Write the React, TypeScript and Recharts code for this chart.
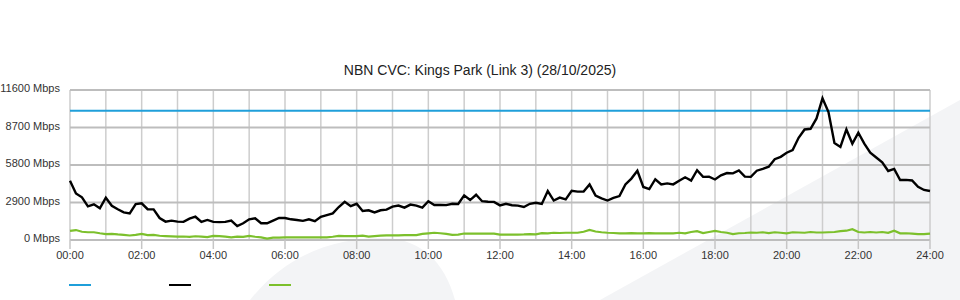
import React from "react";
import { LineChart, Line, XAxis, YAxis, CartesianGrid } from "recharts";

// 10 minute samples, 00:00 -> 24:00
const DOWNLOAD = [
  4590, 3600, 3300, 2600, 2760, 2450,
  3270, 2650, 2380, 2140, 2060, 2780,
  2835, 2380, 2370, 1700, 1420, 1500,
  1420, 1400, 1650, 1800, 1400, 1550,
  1400, 1380, 1400, 1500, 1080, 1290,
  1600, 1675, 1300, 1290, 1500, 1700,
  1700, 1600, 1550, 1480, 1600, 1450,
  1800, 1930, 2060, 2550, 2950, 2620,
  2800, 2250, 2300, 2130, 2300, 2350,
  2580, 2660, 2500, 2740, 2660, 2500,
  3000, 2710, 2710, 2700, 2800, 2780,
  3450, 3090, 3500, 3000, 2960, 2950,
  2680, 2800, 2690, 2660, 2550, 2800,
  2880, 2790, 3790, 3050, 3280, 3140,
  3800, 3740, 3740, 4300, 3430, 3220,
  3050, 3250, 3400, 4300, 4750, 5350,
  4100, 3940, 4700, 4300, 4380, 4300,
  4580, 4850, 4600, 5400, 4880, 4900,
  4680, 5000, 5180, 5150, 5380, 4900,
  4880, 5360, 5500, 5670, 6250, 6430,
  6750, 6950, 7900, 8550, 8600, 9400,
  10960, 9900, 7500, 7200, 8550, 7450,
  8300, 7450, 6750, 6380, 6000, 5340,
  5500, 4640, 4650, 4600, 4120, 3870,
  3790,
];

const UPLOAD = [
  700, 770, 640, 600, 600, 520,
  460, 480, 430, 400, 350, 400,
  470, 380, 400, 330, 300, 280,
  260, 270, 240, 290, 260, 220,
  320, 300, 260, 200, 260, 240,
  320, 250, 200, 110, 180, 190,
  200, 200, 200, 200, 210, 200,
  200, 210, 250, 320, 300, 300,
  300, 340, 260, 300, 340, 350,
  360, 360, 380, 380, 380, 470,
  510, 560, 520, 480, 400, 420,
  500, 500, 500, 490, 490, 490,
  420, 420, 420, 420, 430, 460,
  440, 530, 520, 560, 540, 560,
  560, 560, 640, 780, 660, 600,
  560, 540, 510, 520, 530, 520,
  520, 530, 520, 510, 520, 520,
  560, 520, 620, 680, 540, 620,
  700, 620, 560, 460, 520, 540,
  580, 560, 600, 540, 600, 560,
  520, 600, 580, 560, 620, 580,
  580, 600, 620, 680, 720, 840,
  620, 580, 620, 580, 620, 560,
  720, 520, 520, 500, 460, 460,
  500,
];

const CAPACITY = 10000;

const TIME_LABELS = [
  "00:00", "01:00", "02:00", "03:00", "04:00", "05:00", "06:00", "07:00",
  "08:00", "09:00", "10:00", "11:00", "12:00", "13:00", "14:00", "15:00",
  "16:00", "17:00", "18:00", "19:00", "20:00", "21:00", "22:00", "23:00",
  "24:00",
];

const Y_TICKS = [0, 2900, 5800, 8700, 11600];

const COLORS = { capacity: "#1f9fda", download: "#000000", upload: "#7cc02c" };

const FONT = "Arial, 'Liberation Sans', sans-serif";

const data = DOWNLOAD.map((v, i) => ({
  slot: i,
  capacity: CAPACITY,
  download: v,
  upload: UPLOAD[i],
}));

const hourTicks = TIME_LABELS.map((_l, i) => i * 6);

const TimeTick = (props: any) => {
  const { x, y, payload } = props;
  const h = Math.round(payload.value / 6);
  if (h % 2 !== 0) return <g />;
  return (
    <g>
      <line x1={x} x2={x} y1={y} y2={y + 9} stroke="#c6c6c6" strokeWidth={1.5} />
      <text x={x} y={y + 19} textAnchor="middle" fontSize={11} fill="#333" fontFamily={FONT}>
        {TIME_LABELS[h]}
      </text>
    </g>
  );
};

const MbpsTick = (props: any) => {
  const { x, y, payload } = props;
  return (
    <text x={x} y={y} dy={2} textAnchor="end" fontSize={11} fill="#333" fontFamily={FONT}>
      {`${payload.value} Mbps`}
    </text>
  );
};

const App: React.FC = () => {
  return (
    <div style={{ position: "absolute", left: 0, top: 0, width: 960, height: 300, background: "#fff", overflow: "hidden" }}>
      {/* faint background watermark */}
      <svg width={960} height={300} style={{ position: "absolute", left: 0, top: 0 }}>
        <path d="M250,300 C290,250 340,238 385,238 C425,240 445,265 455,300 Z" fill="#f3f4f6" />
        <path d="M600,300 L960,100 L960,300 Z" fill="#f3f4f6" />
      </svg>
      <div
        style={{
          position: "absolute",
          top: 62,
          left: 0,
          width: 960,
          textAlign: "center",
          fontFamily: FONT,
          fontSize: 14,
          color: "#222",
        }}
      >
        NBN CVC: Kings Park (Link 3) (28/10/2025)
      </div>
      <div style={{ position: "absolute", left: 0, top: 0 }}>
        <LineChart width={960} height={300} data={data} margin={{ top: 90, right: 30, bottom: 30, left: 8 }}>
          <CartesianGrid horizontal={false} stroke="#cdcdcd" strokeWidth={1.5} />
          <CartesianGrid vertical={false} stroke="#bdbdbd" strokeWidth={2} />
          <XAxis
            dataKey="slot"
            type="number"
            domain={[0, 144]}
            ticks={hourTicks}
            interval={0}
            axisLine={false}
            tickLine={false}
            tickSize={0}
            tickMargin={0}
            height={30}
            tick={<TimeTick />}
          />
          <YAxis
            domain={[0, 11600]}
            ticks={Y_TICKS}
            interval={0}
            axisLine={false}
            tickLine={false}
            tickSize={0}
            tickMargin={10}
            width={62}
            tick={<MbpsTick />}
          />
          <Line dataKey="capacity" stroke={COLORS.capacity} strokeWidth={2} dot={false} isAnimationActive={false} />
          <Line dataKey="upload" stroke={COLORS.upload} strokeWidth={2.2} dot={false} isAnimationActive={false} />
          <Line dataKey="download" stroke={COLORS.download} strokeWidth={2.4} dot={false} isAnimationActive={false} />
        </LineChart>
      </div>
      {/* legend swatches */}
      {[COLORS.capacity, COLORS.download, COLORS.upload].map((c, i) => (
        <div
          key={c}
          style={{ position: "absolute", left: 69 + i * 100, top: 284, width: 22, height: 2, background: c }}
        />
      ))}
    </div>
  );
};

export default App;
